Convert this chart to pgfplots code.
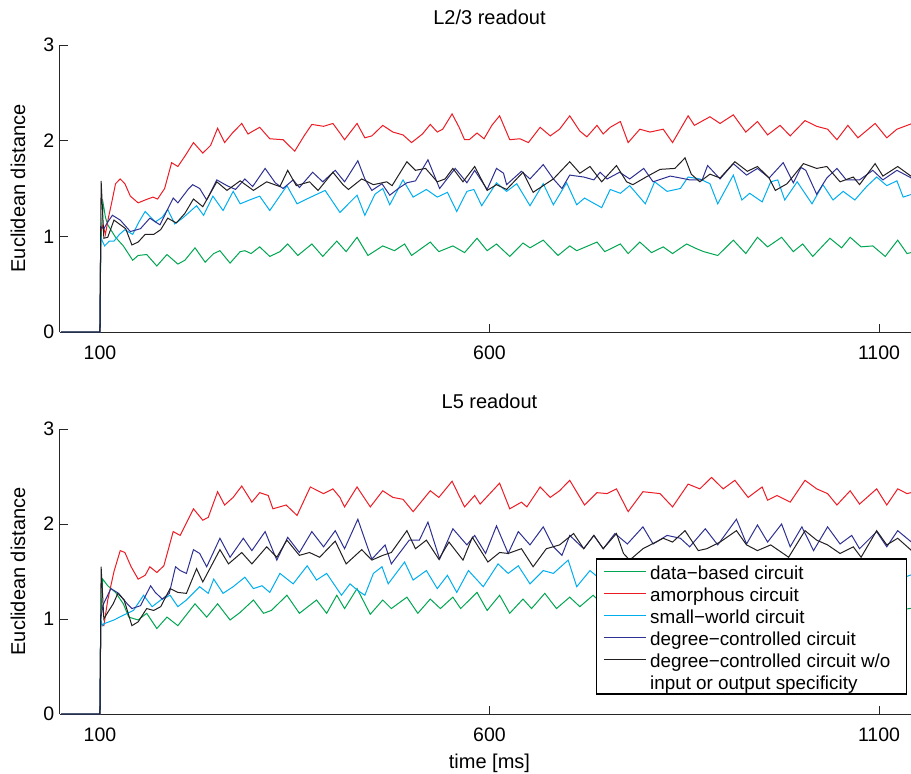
\documentclass[border=0pt]{standalone}
\usepackage{pgfplots}
\pgfplotsset{compat=1.18}
\usepackage{fontspec}
\setmainfont{Liberation Sans}

\definecolor{cgreen}{RGB}{0,166,81}
\definecolor{cred}{RGB}{237,28,36}
\definecolor{ccyan}{RGB}{0,174,239}
\definecolor{cblue}{RGB}{46,49,146}
\definecolor{cblack}{RGB}{35,31,32}

\pgfplotsset{
  readout/.style={
    scale only axis,
    width=513.6pt,
    xmin=48.7, xmax=1147.5,
    ymin=0, ymax=3,
    axis lines=left,
    axis line style={-, line width=0.6pt, black!85},
    tick style={line width=0.6pt, black!85},
    tick align=inside,
    major tick length=4.8pt,
    xtick={100,600,1100},
    ytick={0,1,2,3},
    font=\fontsize{12}{14}\selectfont,
    tick label style={font=\fontsize{11.7}{14}\selectfont},
    /pgf/number format/assume math mode=true,
    /pgf/number format/1000 sep={},
    xticklabel style={yshift=-4.7pt},
    ylabel={Euclidean distance},
    ylabel style={at={(axis description cs:-0.049,0.5)}, anchor=center},
    title style={at={(axis cs:600,3)}, anchor=base, yshift=6.3pt},
    every axis plot/.append style={line width=0.6pt},
  },
}

\begin{document}
\begin{tikzpicture}
% L2/3 readout
\begin{axis}[readout, at={(0pt,0pt)}, anchor=north west, height=172.2pt,
  title={L2/3 readout}]
\addplot[cgreen] coordinates {
(50,0)(100,0)(101,0.9)(104,1.35)(107,1.2)(110,1.12)(120,0.99)(130,0.9)(142,0.75)(149,0.8)(160,0.81)(173,0.69)(186,0.81)(200,0.71)(209,0.75)(222,0.88)(235,0.73)(246,0.82)(254,0.85)(267,0.72)(280,0.84)(286,0.85)(294,0.82)(305,0.89)(318,0.79)(331,0.84)(341,0.92)(354,0.8)(372,0.92)(386,0.79)(404,0.95)(416,0.84)(430,0.99)(444,0.8)(463,0.9)(478,0.85)(491,0.92)(500,0.8)(524,0.94)(535,0.84)(553,0.9)(568,0.83)(584,0.98)(597,0.85)(609,0.92)(626,0.79)(643,0.93)(652,0.88)(669,0.96)(688,0.8)(703,0.9)(712,0.85)(738,0.94)(748,0.84)(768,0.92)(778,0.82)(793,0.94)(808,0.83)(823,0.89)(835,0.82)(853,0.92)(866,0.87)(875,0.84)(893,0.8)(913,0.96)(929,0.82)(944,0.99)(957,0.89)(975,0.99)(990,0.84)(1002,0.92)(1015,0.79)(1037,0.98)(1052,0.88)(1063,0.99)(1077,0.89)(1092,0.9)(1108,0.79)(1124,0.96)(1136,0.82)(1146,0.84)
};
\addplot[cred] coordinates {
(50,0)(100,0)(101,1.05)(104,1.12)(107,1.02)(111,1.2)(115,1.35)(120,1.55)(126,1.6)(132,1.55)(139,1.42)(149,1.35)(158,1.38)(168,1.41)(174,1.39)(183,1.5)(192,1.77)(200,1.73)(210,1.85)(220,1.98)(232,1.87)(242,1.95)(251,2.13)(260,1.98)(270,2.08)(282,2.18)(290,2.07)(305,2.14)(318,2.02)(335,2.01)(350,1.89)(362,2.05)(372,2.17)(387,2.15)(399,2.18)(408,2.08)(414,2.01)(430,2.18)(440,2.03)(449,2.05)(463,2.16)(476,2.09)(489,2.06)(500,1.98)(514,2.07)(524,2.17)(533,2.09)(540,2.12)(552,2.28)(561,2.14)(568,2.01)(574,2.01)(584,2.08)(593,2.02)(603,2.16)(613,2.26)(626,2.01)(639,2.02)(650,1.98)(665,2.14)(678,2.05)(690,2.12)(703,2.26)(716,2.1)(725,2.04)(738,2.16)(746,2.07)(755,2.14)(768,2.2)(778,1.98)(793,2.12)(806,2.09)(823,2.12)(835,1.98)(855,2.26)(863,2.16)(883,2.25)(896,2.18)(913,2.27)(929,2.09)(944,2.2)(957,2.06)(973,2.16)(986,2.05)(1005,2.21)(1020,2.15)(1034,2.12)(1046,2.01)(1060,2.16)(1073,2.03)(1095,2.18)(1110,2.03)(1123,2.12)(1146,2.19)
};
\addplot[ccyan] coordinates {
(50,0)(100,0)(101,1.0)(103,0.95)(106,0.9)(112,0.95)(118,0.95)(125,1.02)(132,1.07)(142,1.02)(150,1.15)(158,1.26)(171,1.15)(180,1.2)(187,1.28)(196,1.13)(206,1.19)(224,1.32)(233,1.22)(245,1.42)(258,1.27)(271,1.47)(280,1.34)(292,1.38)(305,1.42)(318,1.27)(340,1.53)(353,1.34)(368,1.4)(389,1.48)(408,1.25)(430,1.43)(440,1.22)(453,1.44)(463,1.5)(472,1.33)(489,1.59)(502,1.41)(519,1.49)(533,1.41)(546,1.46)(558,1.26)(571,1.47)(580,1.49)(590,1.32)(609,1.56)(622,1.47)(635,1.55)(652,1.32)(669,1.55)(682,1.33)(699,1.56)(712,1.33)(722,1.4)(744,1.3)(755,1.49)(768,1.45)(780,1.53)(800,1.34)(812,1.57)(828,1.47)(845,1.5)(855,1.62)(870,1.6)(883,1.55)(893,1.34)(913,1.64)(924,1.38)(934,1.45)(950,1.36)(961,1.57)(970,1.59)(979,1.38)(995,1.57)(1014,1.34)(1028,1.54)(1041,1.38)(1054,1.47)(1069,1.38)(1084,1.52)(1097,1.62)(1110,1.53)(1123,1.58)(1131,1.41)(1146,1.45)
};
\addplot[cblue] coordinates {
(50,0)(100,0)(101,1.1)(105,1.08)(110,1.15)(116,1.22)(126,1.17)(139,1.05)(152,1.08)(164,1.19)(177,1.12)(194,1.4)(200,1.35)(213,1.49)(219,1.54)(228,1.5)(237,1.38)(250,1.59)(263,1.53)(274,1.49)(286,1.6)(296,1.52)(312,1.71)(325,1.56)(335,1.5)(348,1.59)(356,1.51)(373,1.67)(386,1.57)(402,1.69)(414,1.57)(431,1.79)(440,1.6)(449,1.48)(462,1.55)(472,1.43)(483,1.5)(494,1.56)(505,1.58)(521,1.8)(536,1.5)(556,1.71)(571,1.56)(581,1.69)(597,1.49)(609,1.71)(618,1.66)(622,1.54)(641,1.68)(652,1.6)(669,1.75)(682,1.6)(693,1.5)(703,1.64)(721,1.62)(734,1.59)(742,1.67)(751,1.6)(767,1.67)(780,1.6)(798,1.71)(810,1.57)(832,1.63)(845,1.61)(857,1.59)(873,1.59)(880,1.74)(896,1.6)(913,1.76)(930,1.64)(944,1.71)(959,1.61)(977,1.77)(990,1.56)(1000,1.72)(1006,1.69)(1020,1.44)(1033,1.61)(1046,1.71)(1058,1.59)(1075,1.59)(1092,1.69)(1105,1.59)(1123,1.69)(1146,1.59)
};
\addplot[cblack] coordinates {
(50,0)(100,0)(101.5,1.58)(105,0.98)(110,0.99)(118,1.17)(133,1.08)(141,0.91)(149,0.94)(158,1.02)(169,1.02)(178,1.07)(187,1.19)(198,1.14)(209,1.24)(220,1.39)(232,1.31)(250,1.57)(263,1.48)(280,1.58)(297,1.48)(314,1.57)(331,1.52)(341,1.69)(352,1.53)(369,1.57)(380,1.48)(399,1.67)(412,1.54)(419,1.49)(436,1.6)(451,1.54)(468,1.57)(475,1.53)(494,1.78)(505,1.69)(518,1.71)(533,1.57)(543,1.6)(553,1.71)(566,1.57)(581,1.73)(597,1.48)(609,1.54)(622,1.49)(643,1.67)(656,1.46)(669,1.53)(682,1.6)(703,1.78)(716,1.66)(729,1.73)(744,1.57)(763,1.74)(776,1.57)(784,1.54)(801,1.62)(819,1.7)(838,1.71)(851,1.82)(859,1.65)(870,1.57)(883,1.65)(896,1.61)(915,1.78)(931,1.68)(944,1.73)(959,1.61)(967,1.48)(982,1.55)(1003,1.76)(1020,1.71)(1033,1.73)(1050,1.57)(1067,1.62)(1075,1.54)(1095,1.76)(1105,1.63)(1124,1.73)(1146,1.6)
};
\end{axis}

% L5 readout
\begin{axis}[readout, at={(0pt,-230.4pt)}, anchor=north west, height=171pt,
  title={L5 readout},
  xlabel={time [ms]},
  xlabel style={at={(axis cs:600,0)}, anchor=base, yshift=-32.5pt},
  legend cell align=left,
  legend image code/.code={\draw[#1] (0pt,0pt) -- (18.6pt,0pt); \path (0pt,0pt) -- (25.5pt,0pt);},
  legend style={at={(rel axis cs:0.9895,0.0667)}, anchor=south east,
    draw=black, line width=0.9pt, fill=white,
    font=\fontsize{11.3}{13}\selectfont,
    inner xsep=4pt, inner ysep=1pt, row sep=0pt,
    nodes={inner xsep=2pt, inner ysep=1.4pt, text height=10pt, text depth=0.4pt}},
  ]
\addplot[cgreen] coordinates {
(50,0)(100,0)(101,1.0)(103.5,1.42)(110,1.35)(120,1.28)(130,1.16)(137,1.02)(149,0.99)(160,1.06)(173,0.9)(186,1.02)(200,0.93)(222,1.16)(237,1.02)(251,1.16)(267,0.99)(280,1.07)(297,1.2)(310,1.06)(320,1.09)(340,1.25)(356,1.06)(378,1.2)(391,1.06)(404,1.25)(414,1.11)(430,1.32)(447,1.05)(463,1.2)(474,1.11)(494,1.23)(508,1.06)(524,1.21)(537,1.11)(553,1.23)(563,1.11)(584,1.28)(597,1.09)(613,1.25)(626,1.06)(643,1.21)(654,1.11)(671,1.27)(686,1.11)(703,1.23)(716,1.13)(733,1.25)(750,1.12)(770,1.27)(790,1.12)(810,1.26)(830,1.12)(850,1.27)(870,1.13)(890,1.28)(910,1.13)(930,1.27)(950,1.12)(970,1.28)(990,1.13)(1010,1.27)(1030,1.12)(1050,1.28)(1070,1.13)(1090,1.27)(1110,1.13)(1125,1.2)(1132,1.1)(1146,1.12)
};
\addlegendentry{data−based circuit}
\addplot[cred] coordinates {
(50,0)(100,0)(101,0.95)(105,0.93)(110,1.2)(118,1.5)(126,1.72)(132,1.7)(140,1.55)(149,1.42)(158,1.46)(164,1.55)(173,1.49)(182,1.56)(194,1.92)(203,1.88)(220,2.16)(232,2.04)(239,2.07)(251,2.34)(260,2.2)(271,2.28)(282,2.4)(295,2.23)(305,2.33)(316,2.3)(322,2.16)(339,2.2)(353,2.09)(370,2.39)(387,2.32)(399,2.37)(408,2.28)(414,2.18)(430,2.39)(447,2.18)(463,2.35)(476,2.28)(489,2.26)(502,2.13)(524,2.35)(535,2.28)(552,2.45)(568,2.18)(581,2.3)(588,2.21)(613,2.43)(626,2.16)(641,2.23)(648,2.18)(665,2.39)(678,2.28)(690,2.35)(703,2.46)(722,2.2)(738,2.33)(751,2.32)(763,2.37)(778,2.13)(797,2.34)(819,2.32)(835,2.18)(855,2.42)(870,2.37)(885,2.49)(900,2.37)(915,2.46)(932,2.28)(950,2.39)(957,2.25)(969,2.3)(986,2.23)(1005,2.46)(1020,2.37)(1034,2.32)(1046,2.2)(1063,2.35)(1075,2.21)(1097,2.37)(1110,2.2)(1124,2.37)(1136,2.32)(1146,2.34)
};
\addlegendentry{amorphous circuit}
\addplot[ccyan] coordinates {
(50,0)(100,0)(101,1.0)(103,0.93)(105,0.95)(118,0.99)(130,1.04)(143,1.09)(156,1.25)(167,1.13)(178,1.2)(190,1.25)(200,1.13)(211,1.2)(228,1.34)(239,1.27)(246,1.42)(258,1.27)(271,1.34)(286,1.44)(297,1.32)(308,1.35)(318,1.28)(331,1.48)(348,1.37)(366,1.56)(378,1.41)(391,1.48)(410,1.25)(421,1.37)(431,1.3)(440,1.25)(451,1.48)(462,1.55)(470,1.37)(491,1.6)(502,1.41)(519,1.51)(533,1.32)(546,1.46)(558,1.28)(573,1.51)(592,1.34)(611,1.58)(624,1.48)(637,1.56)(652,1.37)(669,1.51)(682,1.48)(701,1.62)(712,1.34)(729,1.51)(745,1.4)(765,1.58)(785,1.42)(805,1.6)(825,1.43)(845,1.58)(865,1.42)(885,1.6)(905,1.44)(925,1.61)(945,1.43)(965,1.6)(985,1.45)(1005,1.62)(1025,1.44)(1045,1.6)(1065,1.45)(1085,1.62)(1105,1.45)(1120,1.55)(1130,1.43)(1146,1.48)
};
\addlegendentry{small−world circuit}
\addplot[cblue] coordinates {
(50,0)(100,0)(101,1.0)(104,1.15)(107,1.2)(114,1.32)(124,1.27)(135,1.16)(141,1.11)(152,1.14)(165,1.35)(171,1.28)(180,1.21)(189,1.27)(197,1.55)(203,1.51)(211,1.48)(220,1.73)(228,1.69)(237,1.55)(254,1.85)(267,1.65)(284,1.85)(295,1.72)(312,1.92)(327,1.62)(341,1.86)(356,1.7)(372,1.92)(387,1.76)(402,1.93)(414,1.74)(431,2.05)(442,1.79)(449,1.63)(466,1.78)(474,1.58)(497,1.83)(510,1.83)(521,2.02)(536,1.63)(553,1.95)(571,1.78)(581,1.88)(595,1.69)(609,1.98)(624,1.69)(637,1.92)(652,1.78)(669,1.97)(682,1.76)(693,1.67)(703,1.88)(721,1.74)(734,1.88)(746,1.74)(761,1.9)(777,1.79)(797,1.97)(810,1.79)(828,1.88)(845,1.85)(857,1.76)(877,1.95)(893,1.78)(917,2.05)(930,1.79)(944,1.99)(957,1.81)(975,2.0)(986,1.76)(1001,1.97)(1016,1.72)(1034,1.97)(1050,1.79)(1065,1.88)(1075,1.74)(1097,1.92)(1110,1.76)(1124,1.93)(1146,1.78)
};
\addlegendentry{degree−controlled circuit}
\addplot[cblack] coordinates {
(50,0)(100,0)(101.5,1.55)(105,1.0)(110,1.07)(117,1.16)(123,1.27)(131,1.2)(141,0.93)(149,0.97)(160,1.11)(169,1.09)(178,1.13)(190,1.32)(200,1.28)(211,1.27)(224,1.53)(232,1.39)(254,1.73)(265,1.58)(282,1.7)(295,1.58)(314,1.76)(327,1.65)(340,1.83)(356,1.67)(369,1.7)(382,1.65)(402,1.82)(416,1.58)(436,1.73)(449,1.62)(463,1.67)(474,1.7)(494,1.93)(505,1.74)(519,1.83)(535,1.63)(548,1.81)(566,1.62)(578,1.86)(598,1.6)(613,1.7)(624,1.69)(641,1.74)(656,1.55)(673,1.74)(690,1.78)(708,1.9)(721,1.74)(734,1.88)(746,1.74)(763,1.9)(772,1.69)(780,1.62)(797,1.74)(823,1.85)(835,1.81)(851,1.93)(868,1.72)(879,1.74)(896,1.81)(917,1.93)(930,1.78)(944,1.72)(961,1.78)(984,1.65)(1005,1.93)(1020,1.83)(1034,1.78)(1050,1.69)(1067,1.76)(1077,1.65)(1097,1.93)(1110,1.78)(1124,1.85)(1146,1.69)
};
\addlegendentry{degree−controlled circuit w/o\makebox[3.5pt]{}}
\addlegendimage{empty legend}
\addlegendentry{input or output specificity}
\end{axis}
\pgfresetboundingbox
\path (-36pt,27pt) rectangle (510.6pt,-436.8pt);
\end{tikzpicture}
\end{document}
